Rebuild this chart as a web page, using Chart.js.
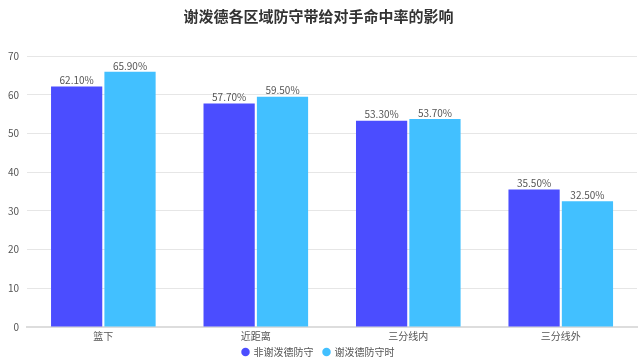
<!DOCTYPE html>
<html>
<head>
<meta charset="utf-8">
<script src="https://cdn.jsdelivr.net/npm/chart.js@4"></script>
<style>
  html, body { margin: 0; padding: 0; background: #fff; }
  #wrap { width: 640px; height: 363px; }
</style>
</head>
<body>
<div id="wrap"><canvas id="chart"></canvas></div>
<script>
const categories = ['篮下', '近距离', '三分线内', '三分线外'];
const seriesNames = ['非谢泼德防守', '谢泼德防守时'];
const nonShepard = [62.1, 57.7, 53.3, 35.5];
const withShepard = [65.9, 59.5, 53.7, 32.5];
const yTicks = [0, 10, 20, 30, 40, 50, 60, 70];

const fontFamily = '"Microsoft YaHei", "Noto Sans CJK SC", sans-serif';

// draw value labels above each bar
const valueLabels = {
  id: 'valueLabels',
  afterDatasetsDraw(chart) {
    const ctx = chart.ctx;
    ctx.save();
    ctx.font = '10px ' + fontFamily;
    ctx.fillStyle = '#555';
    ctx.textAlign = 'center';
    ctx.textBaseline = 'bottom';
    chart.data.datasets.forEach((ds, i) => {
      chart.getDatasetMeta(i).data.forEach((bar, j) => {
        ctx.fillText(ds.data[j].toFixed(2) + '%', bar.x, bar.y - 1);
      });
    });
    ctx.restore();
  }
};

// fixed legend box height so it sits close to the bottom edge
const tightLegend = {
  id: 'tightLegend',
  beforeInit(chart) {
    const fit = chart.legend.fit;
    chart.legend.fit = function () {
      fit.call(this);
      this.height = 26;
    };
  }
};

new Chart(document.getElementById('chart'), {
  type: 'bar',
  data: {
    labels: categories,
    datasets: [
      { label: seriesNames[0], data: nonShepard, backgroundColor: '#4b4dff' },
      { label: seriesNames[1], data: withShepard, backgroundColor: '#42c0ff' }
    ]
  },
  options: {
    responsive: true,
    maintainAspectRatio: false,
    animation: false,
    categoryPercentage: 0.7,
    barPercentage: 0.96,
    layout: { padding: { left: 0, right: 3, top: 0, bottom: 0 } },
    plugins: {
      title: {
        display: true,
        text: '谢泼德各区域防守带给对手命中率的影响',
        color: '#333',
        font: { size: 15, weight: 'bold', family: fontFamily },
        padding: { top: 7, bottom: 31 }
      },
      legend: {
        position: 'bottom',
        labels: {
          usePointStyle: true,
          pointStyle: 'circle',
          boxWidth: 6,
          boxHeight: 6,
          padding: 10,
          color: '#555',
          font: { size: 10, family: fontFamily }
        }
      },
      tooltip: { enabled: false }
    },
    scales: {
      x: {
        grid: { display: false },
        border: { color: '#ddd', width: 2 },
        ticks: { color: '#555', font: { size: 10, family: fontFamily }, padding: -5 },
        afterFit(scale) {
          // don't clip the category labels to the (shortened) axis box
          scale._computeLabelArea = () => undefined;
        }
      },
      y: {
        min: 0,
        max: 70,
        afterBuildTicks(axis) { axis.ticks = yTicks.map(v => ({ value: v })); },
        grid: { color: '#e6e6e6', drawTicks: false },
        border: { display: false },
        ticks: { color: '#555', font: { size: 10, family: fontFamily }, padding: 8 }
      }
    }
  },
  plugins: [valueLabels, tightLegend]
});
</script>
</body>
</html>
